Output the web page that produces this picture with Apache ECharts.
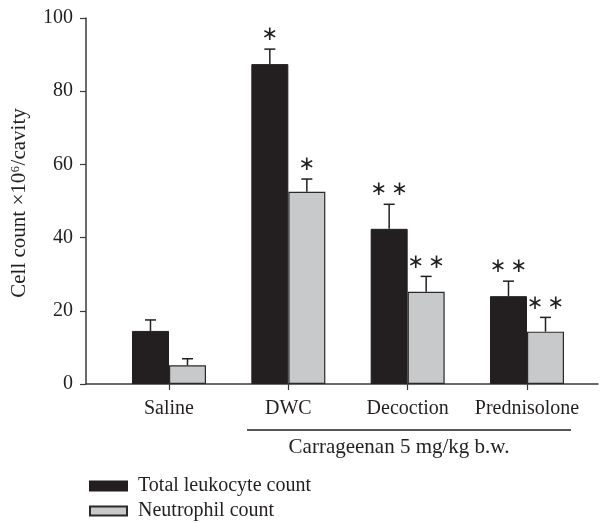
<!DOCTYPE html>
<html>
<head>
<meta charset="utf-8">
<script src="https://cdn.jsdelivr.net/npm/echarts@6/dist/echarts.min.js"></script>
<style>
html,body{margin:0;padding:0;background:#fff;}
#chart{width:606px;height:523px;}
</style>
</head>
<body>
<div id="chart"></div>
<script>
// ---- data ----
var categories = ['Saline', 'DWC', 'Decoction', 'Prednisolone'];
var categoryPos = [1, 2, 3, 4];
var leukocyte = [14.5, 87.4, 42.4, 24.0];
var leukocyteErr = [3.0, 4.1, 6.7, 4.1];
var leukocyteSig = ['', '*', '**', '**'];
var neutrophil = [5.1, 52.5, 25.2, 14.3];
var neutrophilErr = [1.8, 3.5, 4.2, 3.9];
var neutrophilSig = ['', '*', '**', '**'];
var yTicks = [0, 20, 40, 60, 80, 100];
var seriesNames = ['Total leukocyte count', 'Neutrophil count'];
var groupLabel = 'Carrageenan 5 mg/kg b.w.';
var yTitle = 'Cell count \u00d710\u2076/cavity';

var FONT = 'Liberation Serif';
var INK = '#231f20';
var BAR_W = 37;

function pairs(vals) { return vals.map(function (v, i) { return [categoryPos[i], v]; }); }
function errData(vals, errs, sig) {
  return vals.map(function (v, i) { return [categoryPos[i], v, errs[i], sig[i]]; });
}
function errRender(dx) {
  return function (params, api) {
    var x = api.value(0), v = api.value(1), e = api.value(2);
    var sig = api.value(3);
    var p = api.coord([x, v]);
    var q = api.coord([x, v + e]);
    var cx = p[0] + dx;
    var children = [
      { type: 'line', shape: { x1: cx, y1: p[1], x2: cx, y2: q[1] }, style: { stroke: INK, lineWidth: 1.5 } },
      { type: 'line', shape: { x1: cx - 5.5, y1: q[1], x2: cx + 5.5, y2: q[1] }, style: { stroke: INK, lineWidth: 1.5 } }
    ];
    if (sig) {
      var s = sig.split('').map(function () { return '\u2217'; }).join('\u2009');
      children.push({ type: 'text', style: { x: cx, y: q[1] - 14, text: s, fill: INK, font: '20px "DejaVu Sans"', align: 'center', verticalAlign: 'middle' } });
    }
    return { type: 'group', children: children };
  };
}

var chart = echarts.init(document.getElementById('chart'));
chart.setOption({
  animation: false,
  backgroundColor: '#fff',
  grid: { left: 86, right: 8, top: 18, bottom: 139 },
  xAxis: {
    type: 'value', min: 0.3045, max: 4.595,
    splitLine: { show: false },
    axisLine: { show: true, lineStyle: { color: '#3a3a3a', width: 1.5 } },
    axisTick: { show: true, customValues: categoryPos, length: 6, lineStyle: { color: '#3a3a3a', width: 1.2 } },
    axisLabel: { customValues: categoryPos, margin: 15, fontFamily: FONT, fontSize: 20, color: INK,
      formatter: function (v) { var i = categoryPos.indexOf(Math.round(v)); return i >= 0 ? categories[i] : ''; } }
  },
  yAxis: {
    type: 'value', min: 0, max: 100, interval: 20,
    splitLine: { show: false },
    axisLine: { show: true, lineStyle: { color: '#3a3a3a', width: 1.5 } },
    axisTick: { show: true, length: 6, lineStyle: { color: '#3a3a3a', width: 1.2 } },
    axisLabel: { margin: 13, fontFamily: FONT, fontSize: 20, color: INK,
      formatter: function (v) { return yTicks.indexOf(v) >= 0 ? String(v) : ''; } }
  },
  legend: {
    orient: 'vertical', left: 84, top: 471, height: 60,
    icon: 'rect',
    itemWidth: 37, itemHeight: 9, itemGap: 5,
    data: seriesNames,
    textStyle: { fontFamily: FONT, fontSize: 20, lineHeight: 20, color: INK, padding: [0, 0, 0, 6] }
  },
  series: [
    { name: seriesNames[0], type: 'bar', data: pairs(leukocyte), barWidth: BAR_W, barGap: '0%',
      itemStyle: { color: INK, borderColor: INK, borderWidth: 1 } },
    { name: seriesNames[1], type: 'bar', data: pairs(neutrophil), barWidth: BAR_W, barGap: '0%',
      itemStyle: { color: '#c8c9cb', borderColor: '#2a2a2a', borderWidth: 1.2 } },
    { type: 'custom', renderItem: errRender(-BAR_W / 2), data: errData(leukocyte, leukocyteErr, leukocyteSig), z: 3 },
    { type: 'custom', renderItem: errRender(BAR_W / 2), data: errData(neutrophil, neutrophilErr, neutrophilSig), z: 3 }
  ],
  graphic: [
    { type: 'text', x: 19, y: 203, rotation: Math.PI / 2,
      style: { text: yTitle, font: '21px "' + FONT + '"', fill: INK, align: 'center', verticalAlign: 'middle' } },
    { type: 'line', shape: { x1: 247, y1: 430, x2: 571, y2: 430 }, style: { stroke: INK, lineWidth: 1.3 } },
    { type: 'text', x: 399, y: 447,
      style: { text: groupLabel, font: '21px "' + FONT + '"', fill: INK, align: 'center', verticalAlign: 'middle' } }
  ]
});
</script>
</body>
</html>
